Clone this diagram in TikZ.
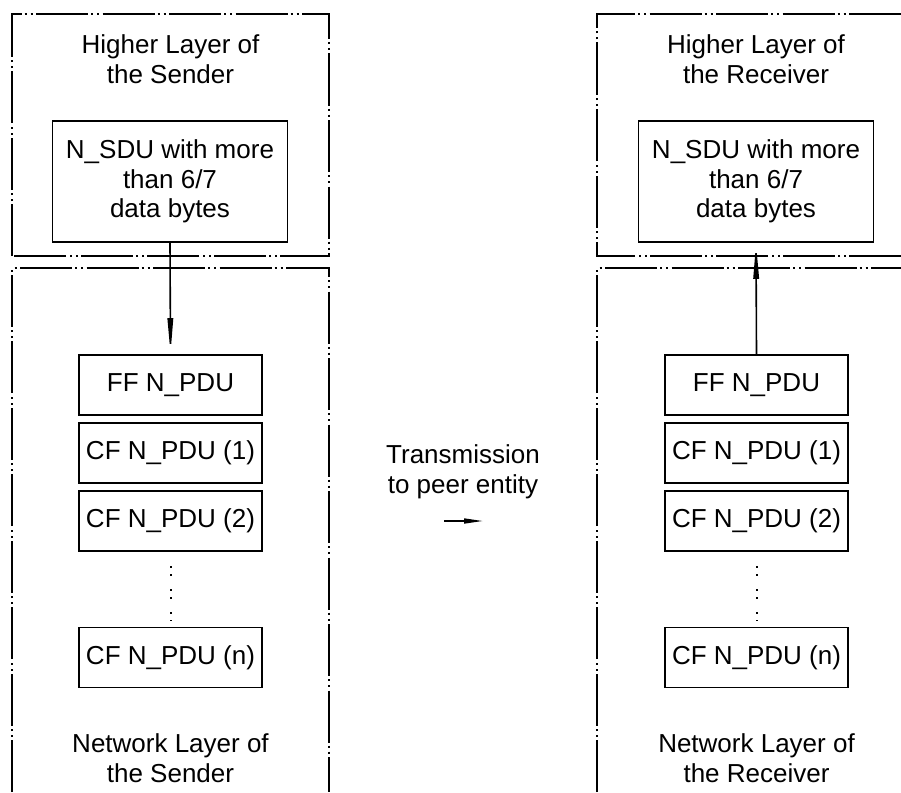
\documentclass[tikz,border=0pt]{standalone}
\usepackage{fontspec}
\setmainfont{Liberation Sans}
\usetikzlibrary{arrows.meta}

\begin{document}
\begin{tikzpicture}[x=1pt,y=-1pt,
  every node/.style={font=\fontsize{26}{29.5}\selectfont, align=center},
  frame/.style={line width=1.7pt, dash pattern=on 52pt off 3pt on 2pt off 4pt on 2pt off 3.5pt},
  sdubox/.style={draw, line width=1.6pt, minimum width=235pt, minimum height=121pt, inner sep=0pt},
  pdubox/.style={draw, line width=1.6pt, minimum width=183pt, minimum height=60pt, inner sep=0pt},
  flow/.style={line width=1.6pt, -{Triangle[length=36pt,width=5.5pt]}}]
\useasboundingbox (0,0) rectangle (901,792);

\draw[frame] (12,256) -- (12,14) -- (329,14) -- (329,256) -- cycle;
\draw[frame] (12,792) -- (12,268) -- (329,268) -- (329,792);
\draw[frame] (901,256) -- (597,256) -- (597,14) -- (901,14);
\draw[frame] (597,792) -- (597,268) -- (901,268);

\node (hlS) at (170.5,59) {Higher Layer of\\the Sender};
\node[sdubox] (sduS) at (170,181.5) {N\_SDU with more\\than 6/7\\data bytes};
\node[pdubox] (ffS) at (170.5,385) {FF N\_PDU};
\node[pdubox] (cf1S) at (170.5,453) {CF N\_PDU (1)};
\node[pdubox] (cf2S) at (170.5,521) {CF N\_PDU (2)};
\node[pdubox] (cfnS) at (170.5,657.5) {CF N\_PDU (n)};
\node (nlS) at (170.5,758) {Network Layer of\\the Sender};

\node (hlR) at (756,59) {Higher Layer of\\the Receiver};
\node[sdubox] (sduR) at (756,181.5) {N\_SDU with more\\than 6/7\\data bytes};
\node[pdubox] (ffR) at (756.5,385) {FF N\_PDU};
\node[pdubox] (cf1R) at (756.5,453) {CF N\_PDU (1)};
\node[pdubox] (cf2R) at (756.5,521) {CF N\_PDU (2)};
\node[pdubox] (cfnR) at (756.5,657.5) {CF N\_PDU (n)};
\node (nlR) at (756.5,758) {Network Layer of\\the Receiver};

\node (tx) at (463,472) {Transmission\\to peer entity};
\coordinate (txA) at (444,521);
\coordinate (txB) at (483,521);

\draw[flow] (sduS.south) -- (ffS.north);
\draw[flow] (ffR.north) -- (sduR.south);
\draw[line width=1.6pt, -{Triangle[length=19pt,width=5pt]}] (txA) -- (txB);

\draw[line width=2pt, dash pattern=on 2pt off 6pt on 2pt off 13pt] (170.5,566) -- (170.5,621);
\draw[line width=2pt, dash pattern=on 2pt off 6pt on 2pt off 13pt] (756.5,566) -- (756.5,621);
\end{tikzpicture}
\end{document}
